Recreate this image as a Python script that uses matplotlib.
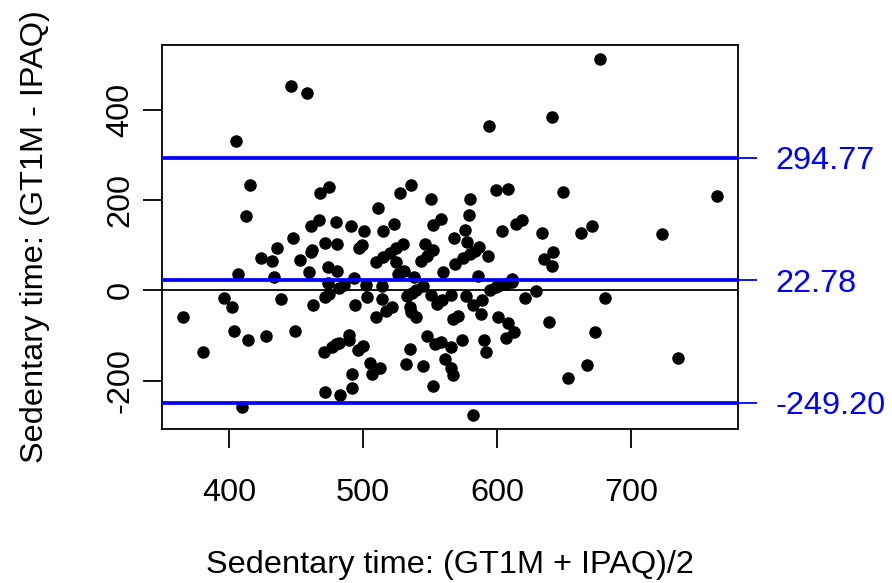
import numpy as np
import matplotlib.pyplot as plt

# Bland-Altman: GT1M vs IPAQ sedentary time
mean_vals = [446, 458, 405, 677, 594, 641, 764, 723,
             416, 413, 468, 475, 528, 536, 551, 511, 558, 552, 599, 608,
             649, 580, 579, 614, 619, 671, 604, 634, 663, 568, 576, 578,
             575, 580, 584, 587, 593, 569, 560, 586, 611, 635, 642, 641,
             461, 467, 480, 491, 501, 515, 523, 448, 436, 424, 432, 453,
             461, 462, 472, 481, 497, 499, 510, 515, 520, 525, 530, 525,
             546, 543, 548, 552, 407, 434, 460, 474, 481, 493, 526, 531, 538,
             474, 482, 486, 502, 514, 533, 537, 540, 545, 551, 472, 475,
             503, 514, 396, 402, 439, 463, 494, 517, 522, 510, 535, 536,
             540, 555, 559, 567, 571, 366, 595, 599, 602, 607, 611, 566,
             577, 589, 582, 588, 621, 629, 681, 601, 608, 613, 607, 639, 673,
             404, 414, 428, 449, 381, 471, 477, 480, 482, 490, 490, 496,
             500, 505, 507, 513, 492, 492, 472, 483, 410, 535, 532, 545,
             548, 554, 558, 552, 561, 574, 566, 590, 592, 566, 567, 667,
             653, 582, 735]
diff_vals = [454, 437, 331, 513, 364, 384, 210, 126,
             233, 166, 217, 230, 217, 233, 203, 183, 158, 146, 222, 226,
             218, 202, 168, 148, 157, 144, 131, 127, 127, 117, 133, 107,
             72, 80, 87, 96, 76, 58, 41, 33, 26, 70, 85, 54,
             144, 156, 152, 143, 132, 132, 147, 116, 93, 71, 65, 67,
             85, 89, 105, 104, 95, 100, 62, 74, 84, 93, 102, 62,
             104, 65, 76, 89, 36, 30, 41, 52, 44, 27, 37, 44, 30,
             17, 6, 12, 13, 10, -13, -5, 1, 10, -10, -15, -9,
             -15, -20, -17, -36, -20, -33, -33, -46, -36, -59, -37, -48,
             -58, -30, -21, -63, -56, -58, 0, 7, 11, 15, 18, -10,
             -13, -22, -33, -52, -17, -2, -17, -58, -73, -93, -106, -70, -93,
             -91, -110, -101, -91, -137, -137, -126, -120, -117, -98, -110, -133,
             -124, -161, -185, -173, -185, -217, -226, -233, -258, -130, -164, -168,
             -102, -120, -115, -213, -152, -111, -126, -111, -136, -173, -187, -165,
             -195, -276, -150]

loa = [294.77, 22.78, -249.20]
loa_labels = ["294.77", "22.78", "-249.20"]
x_ticks = [400, 500, 600, 700]
y_ticks = [-200, 0, 200, 400]

plt.rcParams['font.family'] = ['Liberation Sans', 'DejaVu Sans']
FS = 23.4

fig = plt.figure(figsize=(8.92, 5.83), dpi=100)
ax = fig.add_axes([162 / 892, 1 - 429 / 583, 576 / 892, 384 / 583])

ax.plot(mean_vals, diff_vals, 'o', color='black', markersize=8, zorder=2)

# R style 4% padding
def rlim(v):
    lo, hi = min(v), max(v)
    r = hi - lo
    return lo - 0.04 * r, hi + 0.04 * r

ax.set_xlim(rlim(mean_vals))
ax.set_ylim(rlim(diff_vals))

for v in loa:
    ax.axhline(v, color='#0000ff', lw=2.7, zorder=3)
ax.axhline(0, color='black', lw=1.3, zorder=3)

for s in ax.spines.values():
    s.set_linewidth(1.3)

ax.set_xticks(x_ticks)
ax.set_yticks(y_ticks)
ax.set_xticklabels([str(t) for t in x_ticks], fontsize=FS)
ax.set_yticklabels([str(t) for t in y_ticks], fontsize=FS, rotation=90, va='center')
ax.tick_params(axis='both', length=14, width=1.3)
ax.tick_params(axis='x', pad=21)
ax.tick_params(axis='y', pad=5)

ax2 = ax.twinx()
ax2.set_ylim(ax.get_ylim())
ax2.set_yticks(loa)
ax2.set_yticklabels(loa_labels, fontsize=FS, color='#0000ff')
ax2.tick_params(axis='y', length=14, width=1.3, color='#0000ff', pad=13)
for s in ax2.spines.values():
    s.set_visible(False)

fig.text(450 / 892, 1 - 565 / 583, "Sedentary time: (GT1M + IPAQ)/2",
         fontsize=FS, ha='center', va='center')
fig.text(35 / 892, 1 - 237 / 583, "Sedentary time: (GT1M - IPAQ)",
         fontsize=FS, ha='center', va='center', rotation=90)

fig.savefig("out.png", dpi=100)
